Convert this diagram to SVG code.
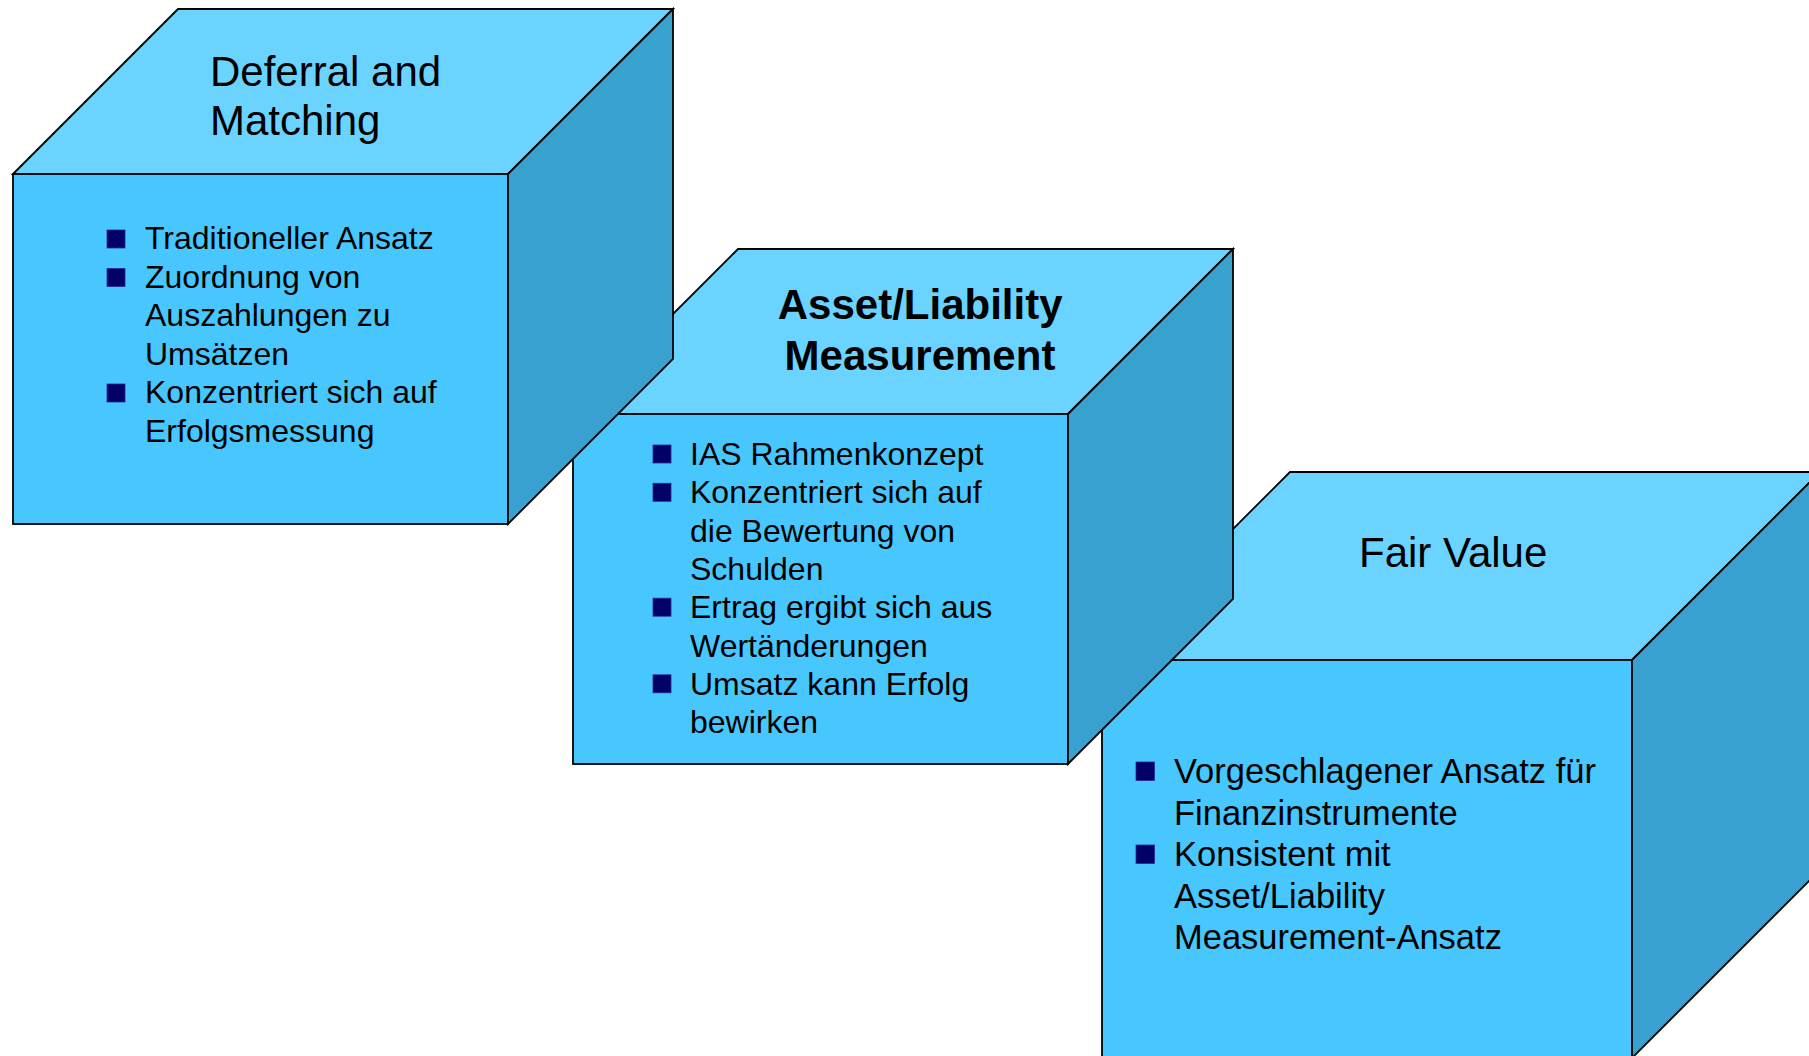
<svg xmlns="http://www.w3.org/2000/svg" width="1809" height="1056" viewBox="0 0 1809 1056">
<style>
.top{fill:#6BD3FF;stroke:#000;stroke-width:1.8;stroke-linejoin:miter}
.front{fill:#47C7FE;stroke:#000;stroke-width:1.8}
.side{fill:#39A1CF;stroke:#000;stroke-width:1.8;stroke-linejoin:miter}
.b{fill:#000066;stroke:#2A2A99;stroke-width:0.8}
.t{font-family:"Liberation Sans",Arial,sans-serif;fill:#000}
.body{font-size:32px}
.body3{font-size:34.5px}
.title{font-size:42px}
.titleb{font-size:42px;font-weight:bold}
</style>
<rect width="1809" height="1056" fill="#fff"/>
<g id="cube-fair-value">
<polygon class="top" points="1102,660 1290,472 1820,472 1632,660"/>
<rect class="front" x="1102" y="660" width="530" height="398"/>
<polygon class="side" points="1632,660 1820,472 1820,870 1632,1058"/>
<text class="t title" x="1359" y="567">Fair Value</text>
<rect class="b" x="1136" y="762" width="18.5" height="18.5"/>
<rect class="b" x="1136" y="845" width="18.5" height="18.5"/>
<text class="t body3" x="1174">
<tspan x="1174" y="783">Vorgeschlagener Ansatz für</tspan>
<tspan x="1174" y="824.5">Finanzinstrumente</tspan>
<tspan x="1174" y="866">Konsistent mit</tspan>
<tspan x="1174" y="907.5">Asset/Liability</tspan>
<tspan x="1174" y="949">Measurement-Ansatz</tspan>
</text>
</g>
<g id="cube-asset-liability">
<polygon class="top" points="573,414 738,249 1233,249 1068,414"/>
<rect class="front" x="573" y="414" width="495" height="350"/>
<polygon class="side" points="1068,414 1233,249 1233,599 1068,764"/>
<text class="t titleb" text-anchor="middle">
<tspan x="926" y="319">Asset/Liability</tspan>
<tspan x="920" y="370">Measurement</tspan>
</text>
<rect class="b" x="653" y="445" width="18" height="18"/>
<rect class="b" x="653" y="483.3" width="18" height="18"/>
<rect class="b" x="653" y="598.2" width="18" height="18"/>
<rect class="b" x="653" y="674.8" width="18" height="18"/>
<text class="t body">
<tspan x="690" y="465">IAS Rahmenkonzept</tspan>
<tspan x="690" y="503.3">Konzentriert sich auf</tspan>
<tspan x="690" y="541.6">die Bewertung von</tspan>
<tspan x="690" y="579.9">Schulden</tspan>
<tspan x="690" y="618.2">Ertrag ergibt sich aus</tspan>
<tspan x="690" y="656.5">Wertänderungen</tspan>
<tspan x="690" y="694.8">Umsatz kann Erfolg</tspan>
<tspan x="690" y="733.1">bewirken</tspan>
</text>
</g>
<g id="cube-deferral-matching">
<polygon class="top" points="13,174 178,9 673,9 508,174"/>
<rect class="front" x="13" y="174" width="495" height="350"/>
<polygon class="side" points="508,174 673,9 673,359 508,524"/>
<text class="t title">
<tspan x="210" y="85.5">Deferral and</tspan>
<tspan x="210" y="135">Matching</tspan>
</text>
<rect class="b" x="107" y="230" width="18" height="18"/>
<rect class="b" x="107" y="268.5" width="18" height="18"/>
<rect class="b" x="107" y="384" width="18" height="18"/>
<text class="t body">
<tspan x="145" y="249">Traditioneller Ansatz</tspan>
<tspan x="145" y="287.5">Zuordnung von</tspan>
<tspan x="145" y="326">Auszahlungen zu</tspan>
<tspan x="145" y="364.5">Umsätzen</tspan>
<tspan x="145" y="403">Konzentriert sich auf</tspan>
<tspan x="145" y="441.5">Erfolgsmessung</tspan>
</text>
</g>
<g id="connectors"/>
</svg>
